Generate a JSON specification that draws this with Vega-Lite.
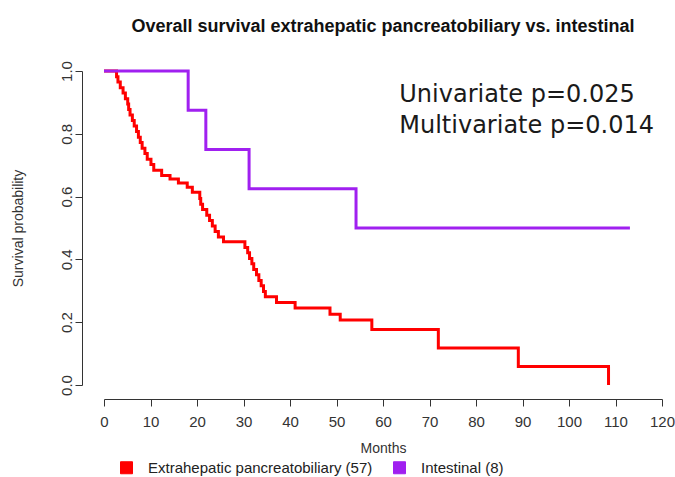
{
  "$schema": "https://vega.github.io/schema/vega-lite/v6.json",
  "width": 558,
  "height": 314,
  "autosize": {"type": "none"},
  "padding": {"left": 104, "top": 71, "right": 13, "bottom": 92},
  "background": "white",
  "title": {
    "text": "Overall survival extrahepatic pancreatobiliary vs. intestinal",
    "font": "Liberation Sans",
    "fontSize": 18,
    "fontWeight": "bold",
    "color": "#111111",
    "anchor": "middle",
    "frame": "group",
    "baseline": "alphabetic",
    "offset": 11
  },
  "config": {
    "view": {"stroke": null},
    "axis": {
      "grid": false,
      "domainColor": "#333333",
      "tickColor": "#333333",
      "labelColor": "#333333",
      "titleColor": "#333333",
      "labelFont": "Liberation Sans",
      "titleFont": "Liberation Sans",
      "titleFontWeight": "normal",
      "domainWidth": 1,
      "tickWidth": 1
    }
  },
  "datasets": {
    "red": [
      {"group": "Extrahepatic pancreatobiliary (57)", "months": 0, "survival": 1.0},
      {"group": "Extrahepatic pancreatobiliary (57)", "months": 2.7, "survival": 0.982},
      {"group": "Extrahepatic pancreatobiliary (57)", "months": 3.0, "survival": 0.965},
      {"group": "Extrahepatic pancreatobiliary (57)", "months": 3.5, "survival": 0.947},
      {"group": "Extrahepatic pancreatobiliary (57)", "months": 4.1, "survival": 0.930},
      {"group": "Extrahepatic pancreatobiliary (57)", "months": 4.6, "survival": 0.912},
      {"group": "Extrahepatic pancreatobiliary (57)", "months": 5.1, "survival": 0.895},
      {"group": "Extrahepatic pancreatobiliary (57)", "months": 5.3, "survival": 0.877},
      {"group": "Extrahepatic pancreatobiliary (57)", "months": 5.6, "survival": 0.860},
      {"group": "Extrahepatic pancreatobiliary (57)", "months": 6.1, "survival": 0.842},
      {"group": "Extrahepatic pancreatobiliary (57)", "months": 6.5, "survival": 0.825},
      {"group": "Extrahepatic pancreatobiliary (57)", "months": 7.0, "survival": 0.807},
      {"group": "Extrahepatic pancreatobiliary (57)", "months": 7.4, "survival": 0.789},
      {"group": "Extrahepatic pancreatobiliary (57)", "months": 7.8, "survival": 0.772},
      {"group": "Extrahepatic pancreatobiliary (57)", "months": 8.2, "survival": 0.754},
      {"group": "Extrahepatic pancreatobiliary (57)", "months": 8.8, "survival": 0.737},
      {"group": "Extrahepatic pancreatobiliary (57)", "months": 9.3, "survival": 0.719},
      {"group": "Extrahepatic pancreatobiliary (57)", "months": 10.1, "survival": 0.702},
      {"group": "Extrahepatic pancreatobiliary (57)", "months": 10.7, "survival": 0.684},
      {"group": "Extrahepatic pancreatobiliary (57)", "months": 12.4, "survival": 0.667},
      {"group": "Extrahepatic pancreatobiliary (57)", "months": 14.2, "survival": 0.656},
      {"group": "Extrahepatic pancreatobiliary (57)", "months": 16.0, "survival": 0.643},
      {"group": "Extrahepatic pancreatobiliary (57)", "months": 17.9, "survival": 0.630},
      {"group": "Extrahepatic pancreatobiliary (57)", "months": 19.0, "survival": 0.614},
      {"group": "Extrahepatic pancreatobiliary (57)", "months": 20.6, "survival": 0.594},
      {"group": "Extrahepatic pancreatobiliary (57)", "months": 20.8, "survival": 0.576},
      {"group": "Extrahepatic pancreatobiliary (57)", "months": 21.2, "survival": 0.559},
      {"group": "Extrahepatic pancreatobiliary (57)", "months": 22.1, "survival": 0.541},
      {"group": "Extrahepatic pancreatobiliary (57)", "months": 22.7, "survival": 0.524},
      {"group": "Extrahepatic pancreatobiliary (57)", "months": 23.3, "survival": 0.506},
      {"group": "Extrahepatic pancreatobiliary (57)", "months": 23.9, "survival": 0.489},
      {"group": "Extrahepatic pancreatobiliary (57)", "months": 24.6, "survival": 0.471},
      {"group": "Extrahepatic pancreatobiliary (57)", "months": 25.7, "survival": 0.456},
      {"group": "Extrahepatic pancreatobiliary (57)", "months": 30.3, "survival": 0.438},
      {"group": "Extrahepatic pancreatobiliary (57)", "months": 30.9, "survival": 0.421},
      {"group": "Extrahepatic pancreatobiliary (57)", "months": 31.3, "survival": 0.403},
      {"group": "Extrahepatic pancreatobiliary (57)", "months": 31.8, "survival": 0.386},
      {"group": "Extrahepatic pancreatobiliary (57)", "months": 32.2, "survival": 0.368},
      {"group": "Extrahepatic pancreatobiliary (57)", "months": 32.8, "survival": 0.351},
      {"group": "Extrahepatic pancreatobiliary (57)", "months": 33.3, "survival": 0.333},
      {"group": "Extrahepatic pancreatobiliary (57)", "months": 33.8, "survival": 0.316},
      {"group": "Extrahepatic pancreatobiliary (57)", "months": 34.3, "survival": 0.298},
      {"group": "Extrahepatic pancreatobiliary (57)", "months": 34.7, "survival": 0.281},
      {"group": "Extrahepatic pancreatobiliary (57)", "months": 37.1, "survival": 0.263},
      {"group": "Extrahepatic pancreatobiliary (57)", "months": 41.1, "survival": 0.245},
      {"group": "Extrahepatic pancreatobiliary (57)", "months": 48.6, "survival": 0.225},
      {"group": "Extrahepatic pancreatobiliary (57)", "months": 50.8, "survival": 0.207},
      {"group": "Extrahepatic pancreatobiliary (57)", "months": 57.6, "survival": 0.177},
      {"group": "Extrahepatic pancreatobiliary (57)", "months": 71.9, "survival": 0.118},
      {"group": "Extrahepatic pancreatobiliary (57)", "months": 89.1, "survival": 0.059},
      {"group": "Extrahepatic pancreatobiliary (57)", "months": 108.5, "survival": 0.0}
    ],
    "purple": [
      {"group": "Intestinal (8)", "months": 0, "survival": 1.0},
      {"group": "Intestinal (8)", "months": 18.1, "survival": 0.875},
      {"group": "Intestinal (8)", "months": 21.9, "survival": 0.75},
      {"group": "Intestinal (8)", "months": 31.2, "survival": 0.625},
      {"group": "Intestinal (8)", "months": 54.2, "survival": 0.5},
      {"group": "Intestinal (8)", "months": 113.1, "survival": 0.5}
    ],
    "notes": [
      {"label": "Univariate p=0.025", "months": 63.5, "survival": 0.902},
      {"label": "Multivariate p=0.014", "months": 63.5, "survival": 0.802}
    ]
  },
  "encoding": {
    "x": {
      "field": "months",
      "type": "quantitative",
      "scale": {"domain": [0, 120], "nice": false},
      "axis": {
        "values": [0, 10, 20, 30, 40, 50, 60, 70, 80, 90, 100, 110, 120],
        "offset": 14,
        "tickSize": 7,
        "labelFontSize": 15,
        "labelPadding": 8,
        "labelFlush": false,
        "labelOverlap": false,
        "title": "Months",
        "titleFontSize": 14,
        "titlePadding": 12
      }
    },
    "y": {
      "field": "survival",
      "type": "quantitative",
      "scale": {"domain": [0, 1], "nice": false},
      "axis": {
        "values": [0, 0.2, 0.4, 0.6, 0.8, 1],
        "format": ".1f",
        "offset": 22,
        "tickSize": 7,
        "labelAngle": -90,
        "labelAlign": "center",
        "labelBaseline": "alphabetic",
        "labelPadding": 4,
        "labelFontSize": 15,
        "title": "Survival probability",
        "titleFontSize": 14,
        "titlePadding": 34
      }
    }
  },
  "layer": [
    {
      "data": {"name": "red"},
      "mark": {"type": "line", "interpolate": "step-after", "strokeWidth": 3, "strokeCap": "butt"},
      "encoding": {
        "color": {
          "field": "group",
          "type": "nominal",
          "scale": {
            "domain": ["Extrahepatic pancreatobiliary (57)", "Intestinal (8)"],
            "range": ["#FF0000", "#A020F0"]
          },
          "legend": {
            "orient": "none",
            "legendX": 15,
            "legendY": 389,
            "direction": "horizontal",
            "title": null,
            "symbolType": "square",
            "symbolSize": 144,
            "symbolStrokeWidth": 1,
            "labelFont": "Liberation Sans",
            "labelFontSize": 15,
            "labelLimit": 400,
            "labelColor": "#222222",
            "labelOffset": 14,
            "columnPadding": 18,
            "padding": 0,
            "encode": {
              "symbols": {
                "update": {
                  "fill": {"scale": "color", "field": "value"},
                  "fillOpacity": {"value": 1},
                  "stroke": {"value": "#222222"},
                  "opacity": {"value": 1}
                }
              }
            }
          }
        }
      }
    },
    {
      "data": {"name": "purple"},
      "mark": {"type": "line", "interpolate": "step-after", "strokeWidth": 3, "strokeCap": "butt"},
      "encoding": {
        "color": {"field": "group", "type": "nominal"}
      }
    },
    {
      "data": {"name": "notes"},
      "mark": {"type": "text", "align": "left", "baseline": "alphabetic", "font": "DejaVu Sans", "fontSize": 24, "color": "#1a1a1a"},
      "encoding": {
        "text": {"field": "label"}
      }
    }
  ]
}
